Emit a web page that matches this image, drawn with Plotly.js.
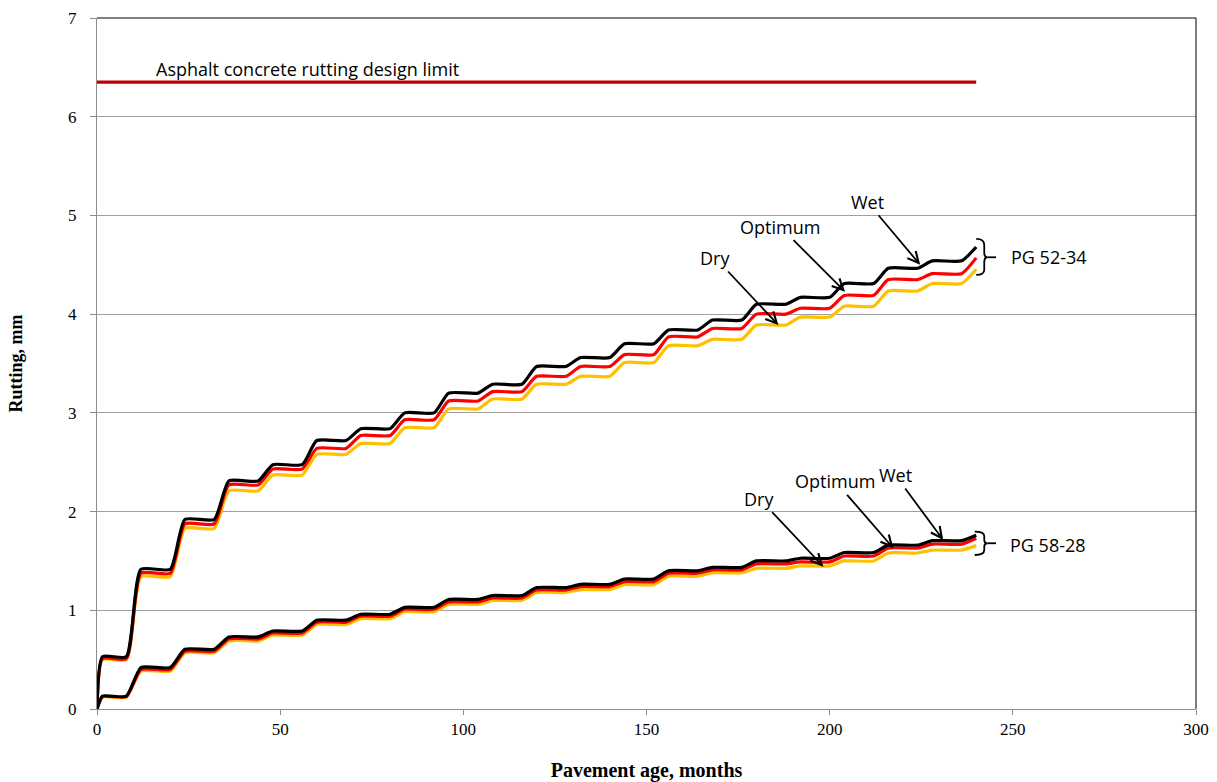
<!DOCTYPE html>
<html>
<head>
<meta charset="utf-8">
<script src="https://cdn.plot.ly/plotly-3.0.1.min.js"></script>
<style>
html,body{margin:0;padding:0;background:#ffffff;}
#chart{width:1217px;height:782px;}
</style>
</head>
<body>
<div id="chart"></div>
<script>
// Pavement age (months) at the corners of the yearly rutting steps
const months = [0, 1.5, 8, 12, 20, 24, 32, 36, 44, 48, 56, 60, 68, 72, 80, 84, 92, 96, 104, 108, 116,
  120, 128, 132, 140, 144, 152, 156, 164, 168, 176, 180, 188, 192, 200, 204, 212, 216, 224, 228, 236, 240];

// PG 52-34 rutting (mm)
const pg5234Wet = [0, 0.53, 0.53, 1.415, 1.415, 1.92, 1.92, 2.31, 2.31, 2.475, 2.475, 2.72, 2.72, 2.84, 2.84,
  3.00, 3.00, 3.20, 3.20, 3.29, 3.29, 3.47, 3.47, 3.56, 3.56, 3.70, 3.70, 3.84, 3.84, 3.94, 3.94,
  4.10, 4.10, 4.17, 4.17, 4.31, 4.31, 4.465, 4.465, 4.54, 4.54, 4.68];
const pg5234Opt = [0, 0.51, 0.51, 1.375, 1.375, 1.875, 1.875, 2.27, 2.27, 2.43, 2.43, 2.64, 2.64, 2.77, 2.77,
  2.93, 2.93, 3.12, 3.12, 3.215, 3.215, 3.37, 3.37, 3.47, 3.47, 3.59, 3.59, 3.77, 3.77, 3.855, 3.855,
  4.00, 4.00, 4.06, 4.06, 4.19, 4.19, 4.35, 4.35, 4.41, 4.41, 4.57];
const pg5234Dry = [0, 0.50, 0.50, 1.34, 1.34, 1.83, 1.83, 2.21, 2.21, 2.37, 2.37, 2.58, 2.58, 2.69, 2.69,
  2.85, 2.85, 3.04, 3.04, 3.14, 3.14, 3.29, 3.29, 3.37, 3.37, 3.51, 3.51, 3.68, 3.68, 3.745, 3.745,
  3.89, 3.89, 3.97, 3.97, 4.08, 4.08, 4.235, 4.235, 4.31, 4.31, 4.455];

// PG 58-28 rutting (mm)
const pg5828Wet = [0, 0.13, 0.13, 0.42, 0.42, 0.605, 0.605, 0.73, 0.73, 0.79, 0.79, 0.90, 0.90, 0.96, 0.96,
  1.03, 1.03, 1.11, 1.11, 1.15, 1.15, 1.23, 1.23, 1.263, 1.263, 1.317, 1.317, 1.40, 1.40, 1.435, 1.435,
  1.50, 1.50, 1.527, 1.527, 1.585, 1.585, 1.66, 1.66, 1.705, 1.705, 1.76];
const pg5828Opt = [0, 0.125, 0.125, 0.40, 0.40, 0.585, 0.585, 0.71, 0.71, 0.77, 0.77, 0.88, 0.88, 0.94, 0.94,
  1.01, 1.01, 1.085, 1.085, 1.125, 1.125, 1.205, 1.205, 1.24, 1.24, 1.29, 1.29, 1.375, 1.375, 1.41, 1.41,
  1.47, 1.47, 1.49, 1.49, 1.55, 1.55, 1.63, 1.63, 1.67, 1.67, 1.73];
const pg5828Dry = [0, 0.12, 0.12, 0.385, 0.385, 0.57, 0.57, 0.69, 0.69, 0.75, 0.75, 0.855, 0.855, 0.915, 0.915,
  0.985, 0.985, 1.06, 1.06, 1.10, 1.10, 1.18, 1.18, 1.21, 1.21, 1.26, 1.26, 1.345, 1.345, 1.38, 1.38,
  1.425, 1.425, 1.45, 1.45, 1.50, 1.50, 1.58, 1.58, 1.61, 1.61, 1.655];

// Design limit
const limitMonths = [0, 240];
const limitValues = [6.35, 6.35];

// Axis ticks
const xTicks = [0, 50, 100, 150, 200, 250, 300];
const yTicks = [0, 1, 2, 3, 4, 5, 6, 7];

const colDry = '#FFC000', colOpt = '#FF0000', colWet = '#000000';
const lw = 3.2;
function stepLine(name, y, color) {
  return {x: months, y: y, name: name, type: 'scatter', mode: 'lines',
    line: {color: color, width: lw, shape: 'spline', smoothing: 0.55}, hoverinfo: 'x+y+name'};
}

const data = [
  stepLine('PG 52-34 Dry', pg5234Dry, colDry),
  stepLine('PG 52-34 Optimum', pg5234Opt, colOpt),
  stepLine('PG 52-34 Wet', pg5234Wet, colWet),
  stepLine('PG 58-28 Dry', pg5828Dry, colDry),
  stepLine('PG 58-28 Optimum', pg5828Opt, colOpt),
  stepLine('PG 58-28 Wet', pg5828Wet, colWet),
  {x: limitMonths, y: limitValues, name: 'Design limit', type: 'scatter', mode: 'lines',
    line: {color: '#C00000', width: 3.4}}
];

const annFont = {family: 'Open Sans, sans-serif', size: 18, color: '#000000'};
function arrowAnn(text, x, y, ax, ay) {
  return {text: text, x: x, y: y, xref: 'x', yref: 'y', ax: ax, ay: ay, showarrow: true,
    arrowhead: 5, arrowsize: 1.2, arrowwidth: 1.8, arrowcolor: '#000000', font: annFont};
}

const annotations = [
  {text: 'Asphalt concrete rutting design limit', x: 15.6, y: 6.484, xref: 'x', yref: 'y',
    xanchor: 'left', yanchor: 'middle', showarrow: false, font: annFont},
  arrowAnn('Wet', 224.7, 4.50, -53, -63),
  arrowAnn('Optimum', 204.2, 4.228, -65, -65),
  arrowAnn('Dry', 186.0, 3.89, -63, -67),
  arrowAnn('Dry', 198.3, 1.442, -64, -68),
  arrowAnn('Optimum', 217.4, 1.628, -58, -67),
  arrowAnn('Wet', 231.0, 1.712, -48, -65),
  {text: 'PG 52-34', x: 249.0, y: 4.58, xref: 'x', yref: 'y', xanchor: 'left', yanchor: 'middle',
    showarrow: false, font: annFont},
  {text: 'PG 58-28', x: 248.6, y: 1.665, xref: 'x', yref: 'y', xanchor: 'left', yanchor: 'middle',
    showarrow: false, font: annFont}
];

const braceLine = {color: '#000000', width: 1.8};
const shapes = [
  {type: 'path', xref: 'x', yref: 'y', line: braceLine,
    path: 'M 240,4.762 Q 242.2,4.762 242.2,4.70 L 242.2,4.62 Q 242.2,4.576 243.1,4.576 Q 242.2,4.576 242.2,4.53 L 242.2,4.45 Q 242.2,4.397 240,4.397'},
  {type: 'line', xref: 'x', yref: 'y', x0: 243.1, x1: 245.4, y0: 4.576, y1: 4.576, line: braceLine},
  {type: 'path', xref: 'x', yref: 'y', line: braceLine,
    path: 'M 239.6,1.796 Q 242.2,1.796 242.2,1.75 L 242.2,1.715 Q 242.2,1.679 243.1,1.679 Q 242.2,1.679 242.2,1.645 L 242.2,1.61 Q 242.2,1.560 239.6,1.560'},
  {type: 'line', xref: 'x', yref: 'y', x0: 243.1, x1: 245.4, y0: 1.679, y1: 1.679, line: braceLine},
  // plot-area frame (top and right)
  {type: 'line', xref: 'paper', yref: 'paper', x0: 0, x1: 1, y0: 1, y1: 1, line: {color: '#000000', width: 1}},
  {type: 'line', xref: 'paper', yref: 'paper', x0: 1, x1: 1, y0: 0, y1: 1, line: {color: '#000000', width: 1}}
];

const tickFont = {family: 'Liberation Serif, Times New Roman, serif', size: 17, color: '#000000'};
const titleFont = {family: 'Liberation Serif, Times New Roman, serif', size: 20, color: '#000000', weight: 'bold'};

const layout = {
  width: 1217, height: 782,
  margin: {l: 97, r: 21, t: 18, b: 73, pad: 0},
  paper_bgcolor: '#ffffff', plot_bgcolor: '#ffffff',
  showlegend: false,
  xaxis: {
    range: [0, 300], tickvals: xTicks, ticktext: xTicks.map(String),
    showgrid: false, zeroline: false,
    showline: true, linecolor: '#8C8C8C', linewidth: 1,
    ticks: 'outside', ticklen: 5, tickcolor: '#8C8C8C', tickwidth: 1,
    tickfont: tickFont,
    title: {text: 'Pavement age, months', font: titleFont, standoff: 24},
    automargin: false
  },
  yaxis: {
    range: [0, 7], tickvals: yTicks, ticktext: yTicks.map(String),
    showgrid: true, gridcolor: '#A0A0A0', gridwidth: 1, zeroline: false,
    showline: true, linecolor: '#8C8C8C', linewidth: 1,
    ticks: 'outside', ticklen: 6, tickcolor: '#8C8C8C', tickwidth: 1,
    tickfont: tickFont, ticklabelstandoff: 10,
    title: {text: 'Rutting, mm', font: {family: 'Liberation Serif, Times New Roman, serif', size: 18, color: '#000000', weight: 'bold'}, standoff: 40},
    automargin: false
  },
  annotations: annotations,
  shapes: shapes
};

Plotly.newPlot('chart', data, layout, {displayModeBar: false, responsive: false});
</script>
</body>
</html>
